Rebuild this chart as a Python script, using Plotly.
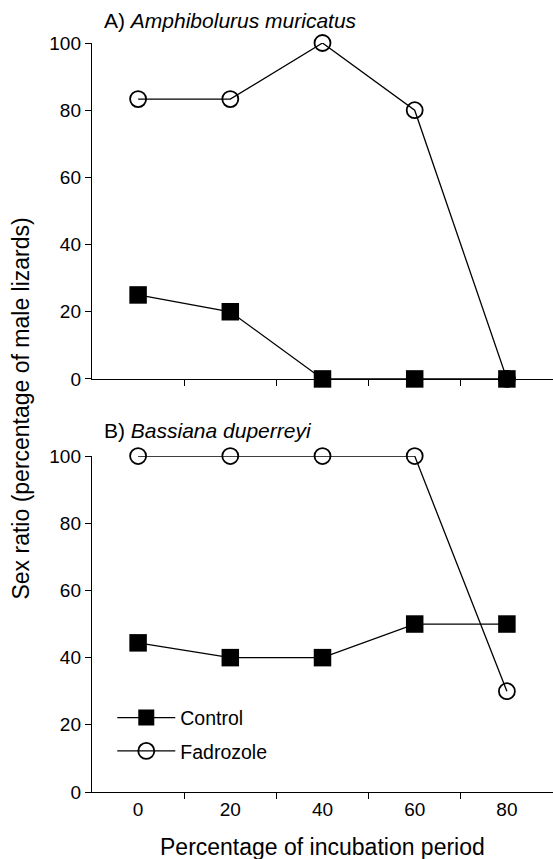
import plotly.graph_objects as go
from plotly.subplots import make_subplots

x_period = [0, 20, 40, 60, 80]
a_control = [25, 20, 0, 0, 0]
a_fadrozole = [83.3, 83.3, 100, 80, 0]
b_control = [44.4, 40, 40, 50, 50]
b_fadrozole = [100, 100, 100, 100, 30]
x_label_vals = [0, 20, 40, 60, 80]
x_minor_vals = [10, 30, 50, 70]
y_tick_vals = [0, 20, 40, 60, 80, 100]

FONT = "Liberation Sans, Arial, Helvetica, sans-serif"

fig = make_subplots(rows=2, cols=1, vertical_spacing=0.103)

ctrl_marker = dict(symbol="square", size=17.5, color="black", line=dict(width=0))
fad_marker = dict(symbol="circle-open", size=16, color="black", line=dict(width=1.8, color="black"))
line_style = dict(color="black", width=1.3)

# panel A
fig.add_trace(go.Scatter(x=x_period, y=a_fadrozole, mode="lines+markers", name="Fadrozole",
                         marker=fad_marker, line=line_style, legendrank=2, legendgroup="f",
                         cliponaxis=False), row=1, col=1)
fig.add_trace(go.Scatter(x=x_period, y=a_control, mode="lines+markers", name="Control",
                         marker=ctrl_marker, line=line_style, legendrank=1, legendgroup="c",
                         cliponaxis=False), row=1, col=1)
# panel B
fig.add_trace(go.Scatter(x=x_period, y=b_fadrozole, mode="lines+markers", name="Fadrozole",
                         marker=fad_marker, line=line_style, showlegend=False, legendgroup="f",
                         cliponaxis=False), row=2, col=1)
fig.add_trace(go.Scatter(x=x_period, y=b_control, mode="lines+markers", name="Control",
                         marker=ctrl_marker, line=line_style, showlegend=False, legendgroup="c",
                         cliponaxis=False), row=2, col=1)

xcommon = dict(range=[-10, 90], showgrid=False, zeroline=False, showline=True,
               linecolor="black", linewidth=1.4, tickmode="array", tickvals=x_label_vals,
               ticks="", tickfont=dict(size=19, color="black", family=FONT),
               minor=dict(tickmode="array", tickvals=x_minor_vals, ticks="outside",
                          ticklen=6, tickwidth=1.3, tickcolor="black", showgrid=False))
fig.update_xaxes(**xcommon)
fig.update_xaxes(showticklabels=False, row=1, col=1)

fig.update_yaxes(range=[0, 100], showgrid=False, zeroline=False, showline=True,
                 linecolor="black", linewidth=1.4, tickmode="array", tickvals=y_tick_vals,
                 ticks="outside", ticklen=6, tickwidth=1.3, tickcolor="black",
                 tickfont=dict(size=19, color="black", family=FONT))

fig.update_layout(
    width=553, height=859,
    margin=dict(l=92, r=0, t=43, b=67),
    paper_bgcolor="white", plot_bgcolor="white",
    font=dict(family=FONT, color="black", size=19),
    legend=dict(x=0.044, y=0.125, xanchor="left", yanchor="top", itemwidth=58,
                bgcolor="rgba(0,0,0,0)", tracegroupgap=5, traceorder="grouped",
                font=dict(size=19.5, family=FONT, color="black")),
    annotations=[
        dict(text="A) <i>Amphibolurus muricatus</i>", x=0.021, y=1.0307, xref="paper", yref="paper",
             xanchor="left", yanchor="middle", showarrow=False, font=dict(size=21, family=FONT)),
        dict(text="B) <i>Bassiana duperreyi</i>", x=0.021, y=0.4833, xref="paper", yref="paper",
             xanchor="left", yanchor="middle", showarrow=False, font=dict(size=21, family=FONT)),
        dict(text="Sex ratio (percentage of male lizards)", x=-0.154, y=0.512, xref="paper", yref="paper",
             xanchor="center", yanchor="middle", textangle=-90, showarrow=False,
             font=dict(size=23, family=FONT)),
        dict(text="Percentage of incubation period", x=0.5, y=-0.0734, xref="paper", yref="paper",
             xanchor="center", yanchor="middle", showarrow=False, font=dict(size=23, family=FONT)),
    ],
)

fig.write_html("out.html", config={"displayModeBar": False},
               post_script="document.body.style.margin='0';document.body.style.overflow='hidden';")
